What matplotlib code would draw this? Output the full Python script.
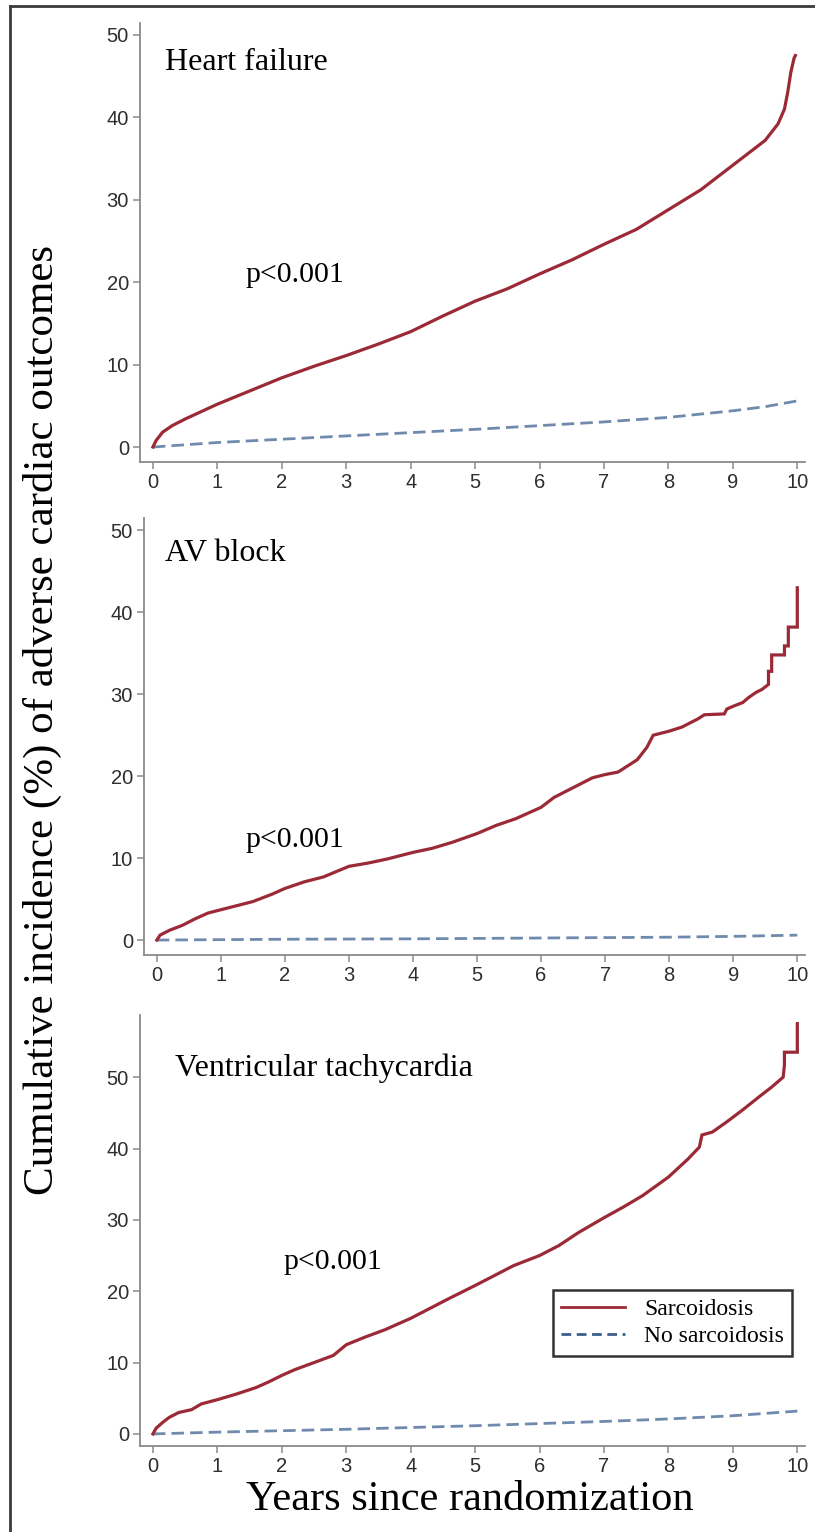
"""
Incidência cumulativa de desfechos cardíacos adversos (três painéis, estilo Stata).
"""

import matplotlib.pyplot as plt
from matplotlib.lines import Line2D

plt.rcParams.update({
    "font.family": "Liberation Sans",
    "axes.spines.top": False,
    "axes.spines.right": False,
})

RED = "#9b2a36"
BLUE = "#6f8aac"
BLUE_LEGEND = "#3b5f8c"
AXIS_GRAY = "#8a8a8a"
SERIF = "Liberation Serif"

# -----------------------------------------------------------------------------
# Dados (anos desde a randomização, incidência %)
# -----------------------------------------------------------------------------
hf_sarc_t = [0, 0.05, 0.15, 0.3, 0.5, 0.75, 1.0, 1.5, 2.0, 2.5, 3.0, 3.5, 4.0,
             4.5, 5.0, 5.5, 6.0, 6.5, 7.0, 7.5, 8.0, 8.5, 9.0, 9.5, 9.7, 9.8,
             9.85, 9.9, 9.95, 9.97]
hf_sarc_y = [0, 0.8, 1.8, 2.6, 3.4, 4.3, 5.2, 6.8, 8.4, 9.8, 11.1, 12.5, 14.0,
             15.9, 17.7, 19.2, 21.0, 22.7, 24.6, 26.4, 28.8, 31.2, 34.2, 37.2,
             39.2, 41.0, 43.0, 45.5, 47.2, 47.5]
hf_none_t = [0, 1, 2, 3, 4, 5, 6, 7, 8, 9, 9.5, 10]
hf_none_y = [0, 0.55, 0.95, 1.35, 1.75, 2.15, 2.6, 3.05, 3.6, 4.4, 4.9, 5.6]

av_sarc_t = [0, 0.05, 0.2, 0.4, 0.6, 0.8, 1.0, 1.2, 1.5, 1.8, 2.0, 2.3, 2.6,
             3.0, 3.3, 3.6, 4.0, 4.3, 4.6, 5.0, 5.3, 5.6, 6.0, 6.2, 6.5, 6.8,
             7.0, 7.2, 7.5, 7.65, 7.75, 8.0, 8.2, 8.45, 8.55, 8.86, 8.9, 9.02,
             9.15, 9.24, 9.35, 9.45, 9.55, 9.55, 9.6, 9.6, 9.8, 9.8, 9.86,
             9.86, 10.0, 10.0]
av_sarc_y = [0, 0.6, 1.2, 1.8, 2.6, 3.3, 3.7, 4.1, 4.7, 5.6, 6.3, 7.1, 7.7,
             9.0, 9.4, 9.9, 10.7, 11.2, 11.9, 13.0, 14.0, 14.8, 16.2, 17.4,
             18.6, 19.8, 20.2, 20.5, 22.0, 23.5, 25.0, 25.5, 26.0, 27.0, 27.5,
             27.6, 28.2, 28.6, 29.0, 29.6, 30.2, 30.6, 31.2, 32.8, 32.8, 34.8,
             34.8, 35.9, 35.9, 38.2, 38.2, 43.0]
av_none_t = [0, 2, 4, 6, 8, 9, 10]
av_none_y = [0, 0.1, 0.15, 0.25, 0.35, 0.45, 0.6]

vt_sarc_t = [0, 0.05, 0.15, 0.25, 0.4, 0.6, 0.75, 1.0, 1.3, 1.6, 1.8, 2.0,
             2.2, 2.5, 2.8, 3.0, 3.3, 3.6, 4.0, 4.3, 4.6, 5.0, 5.3, 5.6, 6.0,
             6.3, 6.6, 7.0, 7.3, 7.6, 8.0, 8.3, 8.48, 8.52, 8.68, 8.9, 9.15,
             9.4, 9.6, 9.78, 9.8, 9.8, 10.0, 10.0]
vt_sarc_y = [0, 0.8, 1.6, 2.3, 3.0, 3.4, 4.2, 4.8, 5.6, 6.5, 7.3, 8.2, 9.0,
             10.0, 11.0, 12.5, 13.6, 14.6, 16.2, 17.6, 19.0, 20.8, 22.2, 23.6,
             25.0, 26.4, 28.2, 30.3, 31.8, 33.4, 36.0, 38.5, 40.2, 41.9, 42.3,
             43.7, 45.4, 47.2, 48.6, 50.0, 51.7, 53.5, 53.5, 57.5]
vt_none_t = [0, 1, 2, 3, 4, 5, 6, 7, 8, 9, 10]
vt_none_y = [0, 0.25, 0.45, 0.65, 0.9, 1.15, 1.45, 1.75, 2.1, 2.55, 3.2]

panel_titles = ["Heart failure", "AV block", "Ventricular tachycardia"]
p_label = "p<0.001"
x_ticks = list(range(0, 11))

fig = plt.figure(figsize=(8.15, 15.32), dpi=100)

# Moldura da imagem original (só esquerda e topo aparecem)
fig.add_artist(Line2D([9.5 / 815, 9.5 / 815], [0, 1 - 5.5 / 1532],
                      transform=fig.transFigure, color="#3a3a3a", lw=2))
fig.add_artist(Line2D([9.5 / 815, 1], [1 - 5.5 / 1532, 1 - 5.5 / 1532],
                      transform=fig.transFigure, color="#3a3a3a", lw=2))

panels = [
    dict(rect=[0.1718, 0.6984, 0.816, 0.2866], ylim=(-1.82, 51.45),
         yticks=[0, 10, 20, 30, 40, 50], title_xy=(0.038, 0.911),
         p_xy=(0.158, 0.426),
         sarc=(hf_sarc_t, hf_sarc_y), none=(hf_none_t, hf_none_y)),
    dict(rect=[0.1767, 0.3766, 0.811, 0.2852], ylim=(-1.83, 51.5),
         yticks=[0, 10, 20, 30, 40, 50], title_xy=(0.032, 0.92),
         p_xy=(0.153, 0.263),
         sarc=(av_sarc_t, av_sarc_y), none=(av_none_t, av_none_y)),
    dict(rect=[0.1718, 0.0561, 0.816, 0.2813], ylim=(-1.7, 58.7),
         yticks=[0, 10, 20, 30, 40, 50], title_xy=(0.053, 0.877),
         p_xy=(0.215, 0.427),
         sarc=(vt_sarc_t, vt_sarc_y), none=(vt_none_t, vt_none_y)),
]

axes = []
for title, cfg in zip(panel_titles, panels):
    ax = fig.add_axes(cfg["rect"])
    ax.plot(*cfg["none"], color=BLUE, lw=2.0, dashes=(4.5, 2.2),
            solid_capstyle="butt")
    ax.plot(*cfg["sarc"], color=RED, lw=2.3, solid_joinstyle="miter")
    ax.set_xlim(-0.2, 10.12)
    ax.set_ylim(*cfg["ylim"])
    ax.set_xticks(x_ticks)
    ax.set_yticks(cfg["yticks"])
    for side in ("left", "bottom"):
        ax.spines[side].set_color(AXIS_GRAY)
        ax.spines[side].set_linewidth(1.3)
    ax.tick_params(length=5, width=1.1, color=AXIS_GRAY, labelsize=14.5,
                   labelcolor="#2e2e2e", pad=3)
    ax.text(*cfg["title_xy"], title, transform=ax.transAxes, family=SERIF,
            fontsize=23, va="center", ha="left")
    ax.text(*cfg["p_xy"], p_label, transform=ax.transAxes, family=SERIF,
            fontsize=21.5, va="center", ha="left")
    axes.append(ax)

# Legenda apenas no último painel
handles = [
    Line2D([], [], color=RED, lw=2.0),
    Line2D([], [], color=BLUE_LEGEND, lw=2.0, dashes=(3.5, 2)),
]
leg = axes[2].legend(handles, ["Sarcoidosis", "No sarcoidosis"],
                     loc="upper left", bbox_to_anchor=(0.621, 0.362),
                     borderaxespad=0, fancybox=False, frameon=True,
                     prop={"family": SERIF, "size": 17}, handlelength=2.7,
                     handletextpad=0.8, borderpad=0.35, labelspacing=0.25)
leg.get_frame().set_edgecolor("black")
leg.get_frame().set_linewidth(1.8)

fig.text(42 / 815, 1 - 720 / 1532,
         "Cumulative incidence (%) of adverse cardiac outcomes",
         rotation=90, ha="center", va="center", family=SERIF, fontsize=31)
fig.text(470 / 815, 1 - 1500 / 1532, "Years since randomization",
         ha="center", va="center", family=SERIF, fontsize=30.5)

fig.savefig("out.png", dpi=100)
